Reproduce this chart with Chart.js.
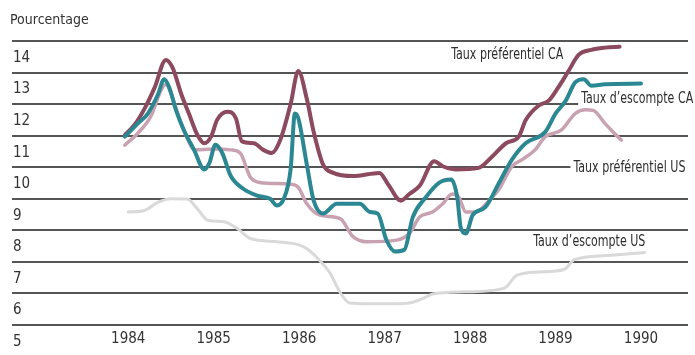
<!DOCTYPE html>
<html><head><meta charset="utf-8">
<script src="https://cdn.jsdelivr.net/npm/chart.js@4.4.1/dist/chart.umd.min.js"></script>
<style>html,body{margin:0;padding:0;background:#fff}#wrap{width:695px;height:355px;position:relative}</style>
</head><body><div id="wrap"><canvas id="c"></canvas></div>
<script>
const FONT = '"Liberation Sans Narrow", "DejaVu Sans Condensed", "Roboto Condensed", sans-serif';

const yearTicks = [1984, 1985, 1986, 1987, 1988, 1989, 1990];
const rateTicks = [5, 6, 7, 8, 9, 10, 11, 12, 13, 14];
const seriesNames = ['Taux d’escompte CA', 'Taux préférentiel CA', 'Taux préférentiel US', 'Taux d’escompte US'];

const caDiscountYears = [1983.96,1984.11,1984.23,1984.35,1984.42,1984.48,1984.56,1984.65,1984.77,1984.89,1984.95,1985.02,1985.10,1985.20,1985.35,1985.51,1985.66,1985.74,1985.82,1985.90,1985.95,1985.99,1986.09,1986.17,1986.28,1986.44,1986.71,1986.83,1986.92,1987.02,1987.12,1987.23,1987.33,1987.48,1987.64,1987.78,1987.85,1987.89,1987.95,1988.03,1988.18,1988.34,1988.49,1988.65,1988.88,1989.00,1989.12,1989.23,1989.33,1989.42,1989.58,1990.00];
const caDiscountRates = [10.97,11.38,11.70,12.32,12.79,12.53,11.80,11.18,10.55,9.93,10.14,10.71,10.45,9.72,9.31,9.10,9.00,8.79,9.00,9.93,11.70,11.55,10.08,8.94,8.53,8.84,8.84,8.58,8.53,7.70,7.33,7.38,8.42,9.04,9.51,9.61,9.04,8.10,7.90,8.48,8.74,9.51,10.24,10.76,11.12,11.70,12.11,12.69,12.79,12.58,12.63,12.65];

const caPrimeYears = [1983.96,1984.07,1984.19,1984.31,1984.44,1984.52,1984.62,1984.71,1984.81,1984.89,1984.97,1985.04,1985.16,1985.26,1985.33,1985.47,1985.58,1985.68,1985.78,1985.90,1985.99,1986.09,1986.17,1986.28,1986.40,1986.63,1986.94,1987.04,1987.19,1987.29,1987.41,1987.58,1987.68,1987.83,1988.10,1988.26,1988.42,1988.57,1988.65,1988.80,1988.92,1989.03,1989.15,1989.27,1989.42,1989.58,1989.75];
const caPrimeRates = [11.02,11.33,11.85,12.53,13.40,13.15,12.32,11.70,11.02,10.76,10.97,11.50,11.76,11.55,10.82,10.76,10.55,10.45,10.87,12.00,13.05,12.16,11.12,10.08,9.82,9.72,9.82,9.46,8.94,9.15,9.41,10.19,10.03,9.93,9.98,10.34,10.76,10.97,11.49,11.95,12.11,12.52,13.04,13.56,13.72,13.79,13.82];

const usPrimeYears = [1983.96,1984.11,1984.27,1984.38,1984.44,1984.50,1984.58,1984.67,1984.78,1985.00,1985.20,1985.31,1985.43,1985.55,1985.90,1985.99,1986.09,1986.24,1986.48,1986.63,1986.79,1987.14,1987.29,1987.41,1987.56,1987.68,1987.79,1987.87,1987.95,1988.07,1988.22,1988.34,1988.49,1988.61,1988.76,1988.88,1989.07,1989.23,1989.35,1989.44,1989.58,1989.69,1989.77];
const usPrimeRates = [10.70,11.07,11.64,12.42,12.62,12.35,11.70,11.05,10.55,10.58,10.55,10.45,9.68,9.51,9.46,9.36,8.84,8.48,8.37,7.80,7.64,7.69,7.90,8.42,8.58,8.84,9.15,9.04,8.58,8.58,8.94,9.31,10.03,10.24,10.55,10.97,11.18,11.70,11.82,11.80,11.38,11.07,10.86];

const usDiscountYears = [1984.00,1984.19,1984.35,1984.50,1984.69,1984.81,1984.93,1985.12,1985.28,1985.43,1985.74,1986.00,1986.10,1986.22,1986.36,1986.48,1986.59,1987.00,1987.29,1987.48,1987.56,1987.95,1988.40,1988.55,1988.80,1989.10,1989.22,1989.60,1990.04];
const usDiscountRates = [8.58,8.63,8.89,9.00,8.99,8.68,8.32,8.27,8.05,7.74,7.64,7.54,7.40,7.10,6.65,6.03,5.70,5.67,5.70,5.88,5.98,6.05,6.17,6.58,6.68,6.76,7.07,7.20,7.30];

const toPoints = (xs, ys) => xs.map((x, i) => ({x: x, y: ys[i]}));

const labelPlugin = {
  id: 'seriesLabels',
  afterDatasetsDraw(chart, args, opts) {
    const ctx = chart.ctx, xs = chart.scales.x, ys = chart.scales.y;
    ctx.save();
    ctx.font = opts.size + 'px ' + FONT;
    ctx.textBaseline = 'middle';
    ctx.textAlign = 'left';
    opts.items.forEach(it => {
      const px = xs.getPixelForValue(it.x), py = ys.getPixelForValue(it.y);
      const w = ctx.measureText(it.text).width;
      const sx = opts.width / w;
      ctx.fillStyle = '#ffffff';
      ctx.fillRect(px - 3, py - 8, opts.width + 6, 16);
      ctx.save();
      ctx.translate(px, py);
      ctx.scale(sx, 1);
      ctx.fillStyle = '#2e2e2e';
      ctx.fillText(it.text, 0, 0);
      ctx.restore();
    });
    ctx.restore();
  }
};

new Chart(document.getElementById('c'), {
  type: 'line',
  data: {
    datasets: [
      {label: seriesNames[0], data: toPoints(caDiscountYears, caDiscountRates), borderColor: '#2b8893', borderWidth: 4},
      {label: seriesNames[1], data: toPoints(caPrimeYears, caPrimeRates), borderColor: '#8c4a5e', borderWidth: 4},
      {label: seriesNames[2], data: toPoints(usPrimeYears, usPrimeRates), borderColor: '#c9a2b2', borderWidth: 3.5},
      {label: seriesNames[3], data: toPoints(usDiscountYears, usDiscountRates), borderColor: '#d9d9d9', borderWidth: 3}
    ]
  },
  options: {
    responsive: true,
    maintainAspectRatio: false,
    animation: false,
    layout: {padding: {left: 10, right: 7, top: 0, bottom: 2}},
    elements: {
      point: {radius: 0},
      line: {cubicInterpolationMode: 'monotone', borderCapStyle: 'round', borderJoinStyle: 'round', fill: false}
    },
    scales: {
      x: {
        type: 'linear',
        min: 1982.64,
        max: 1990.55,
        afterBuildTicks: axis => { axis.ticks = yearTicks.map(v => ({value: v})); },
        grid: {display: false, drawTicks: false},
        border: {display: false},
        ticks: {
          padding: 5,
          color: '#333',
          font: {family: FONT, size: 15},
          callback: v => String(v),
          maxRotation: 0,
          autoSkip: false
        }
      },
      y: {
        type: 'linear',
        min: 5,
        max: 14,
        afterBuildTicks: axis => { axis.ticks = rateTicks.map(v => ({value: v})); },
        grid: {color: '#555555', lineWidth: 2, drawTicks: false},
        border: {display: false},
        ticks: {
          mirror: true,
          padding: 1,
          labelOffset: 17,
          color: '#333',
          font: {family: FONT, size: 15}
        }
      }
    },
    plugins: {
      legend: {display: false},
      tooltip: {enabled: false},
      title: {
        display: true,
        text: 'Pourcentage',
        align: 'start',
        color: '#333',
        font: {family: FONT, size: 14, weight: 'normal'},
        padding: {top: 12, bottom: 12.2}
      },
      seriesLabels: {
        size: 15,
        width: 112,
        items: [
          {text: 'Taux préférentiel CA', x: 1987.78, y: 13.56},
          {text: 'Taux d’escompte CA', x: 1989.30, y: 12.16},
          {text: 'Taux préférentiel US', x: 1989.21, y: 9.96},
          {text: 'Taux d’escompte US', x: 1988.74, y: 7.63}
        ]
      }
    }
  },
  plugins: [labelPlugin]
});
</script>
</body></html>
